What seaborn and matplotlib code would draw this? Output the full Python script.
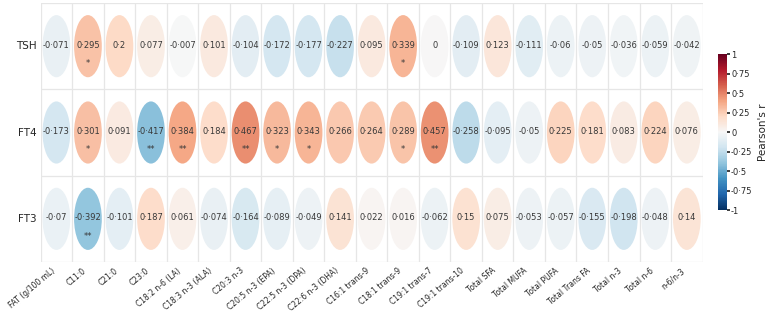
import numpy as np
import pandas as pd
import seaborn as sns
import matplotlib
matplotlib.use("Agg")
import matplotlib.pyplot as plt
from matplotlib.patches import Ellipse
from matplotlib.ticker import FuncFormatter

# fatty acids (columns) and thyroid hormones (rows)
fatty_acids = [
    "FAT (g/100 mL)", "C11:0", "C21:0", "C23:0", "C18:2 n-6 (LA)",
    "C18:3 n-3 (ALA)", "C20:3 n-3", "C20:5 n-3 (EPA)", "C22:5 n-3 (DPA)",
    "C22:6 n-3 (DHA)", "C16:1 trans-9", "C18:1 trans-9", "C19:1 trans-7",
    "C19:1 trans-10", "Total SFA", "Total MUFA", "Total PUFA",
    "Total Trans FA", "Total n-3", "Total n-6", "n-6/n-3",
]
hormones = ["TSH", "FT4", "FT3"]

tsh_r = [-0.071, 0.295, 0.2, 0.077, -0.007, 0.101, -0.104, -0.172, -0.177,
         -0.227, 0.095, 0.339, 0, -0.109, 0.123, -0.111, -0.06, -0.05,
         -0.036, -0.059, -0.042]
ft4_r = [-0.173, 0.301, 0.091, -0.417, 0.384, 0.184, 0.467, 0.323, 0.343,
         0.266, 0.264, 0.289, 0.457, -0.258, -0.095, -0.05, 0.225, 0.181,
         0.083, 0.224, 0.076]
ft3_r = [-0.07, -0.392, -0.101, 0.187, 0.061, -0.074, -0.164, -0.089,
         -0.049, 0.141, 0.022, 0.016, -0.062, 0.15, 0.075, -0.053, -0.057,
         -0.155, -0.198, -0.048, 0.14]

tsh_sig = ["", "*", "", "", "", "", "", "", "", "", "", "*", "", "", "",
           "", "", "", "", "", ""]
ft4_sig = ["", "*", "", "**", "**", "", "**", "*", "*", "", "", "*", "**",
           "", "", "", "", "", "", "", ""]
ft3_sig = ["", "**", "", "", "", "", "", "", "", "", "", "", "", "", "",
           "", "", "", "", "", ""]

corr = pd.DataFrame([tsh_r, ft4_r, ft3_r], index=hormones, columns=fatty_acids)
stars = pd.DataFrame([tsh_sig, ft4_sig, ft3_sig], index=hormones, columns=fatty_acids)


def fmt(v, pos=None):
    s = f"{v:.3f}".rstrip("0").rstrip(".")
    if s in ("-0", ""):
        s = "0"
    return s.replace(".", "\u00b7")


sns.set_theme(style="whitegrid")
cmap = sns.color_palette("RdBu_r", as_cmap=True)

fig = plt.figure(figsize=(7.67, 3.17), dpi=100)
ax = fig.add_axes([0.053, 0.1735, 0.863, 0.817])
cax = fig.add_axes([0.936, 0.3375, 0.0117, 0.492])

# heatmap only used for axes/colorbar setup, cells are masked
sns.heatmap(corr, mask=np.ones(corr.shape, dtype=bool), cmap=cmap,
            vmin=-1, vmax=1, ax=ax, cbar_ax=cax,
            cbar_kws={"label": "Pearson's r", "ticks": np.arange(-1, 1.01, 0.25)})

norm = plt.Normalize(-1, 1)
for i, h in enumerate(hormones):
    for j, fa in enumerate(fatty_acids):
        v = corr.loc[h, fa]
        ax.add_patch(Ellipse((j + 0.5, i + 0.5), 0.88, 0.72,
                             facecolor=cmap(norm(v)), edgecolor="none", zorder=2))
        ax.text(j + 0.5, i + 0.49, fmt(v), ha="center", va="center",
                fontsize=6, color="#383838", zorder=3)
        if stars.loc[h, fa]:
            ax.text(j + 0.5, i + 0.70, stars.loc[h, fa], ha="center", va="center",
                    fontsize=6, color="#383838", zorder=3)

# cell borders
ax.set_xticks(np.arange(0, len(fatty_acids) + 1), minor=True)
ax.set_yticks(np.arange(0, len(hormones) + 1), minor=True)
ax.grid(False, which="major")
ax.grid(True, which="minor", color="#e6e6e6", linewidth=0.9)
ax.set_axisbelow(True)
ax.tick_params(which="both", length=0)
ax.tick_params(axis="x", pad=3)
ax.tick_params(axis="y", pad=3)
ax.set_xticklabels(fatty_acids, rotation=40, ha="right", fontsize=5.5)
ax.set_yticklabels(hormones, rotation=0, fontsize=7.5)
ax.set_xlabel("")
ax.set_ylabel("")

cax.yaxis.set_major_formatter(FuncFormatter(fmt))
cax.tick_params(labelsize=6, length=2, pad=1)
cax.set_ylabel("Pearson's r", fontsize=7.5)

fig.savefig("out.png", dpi=100)
